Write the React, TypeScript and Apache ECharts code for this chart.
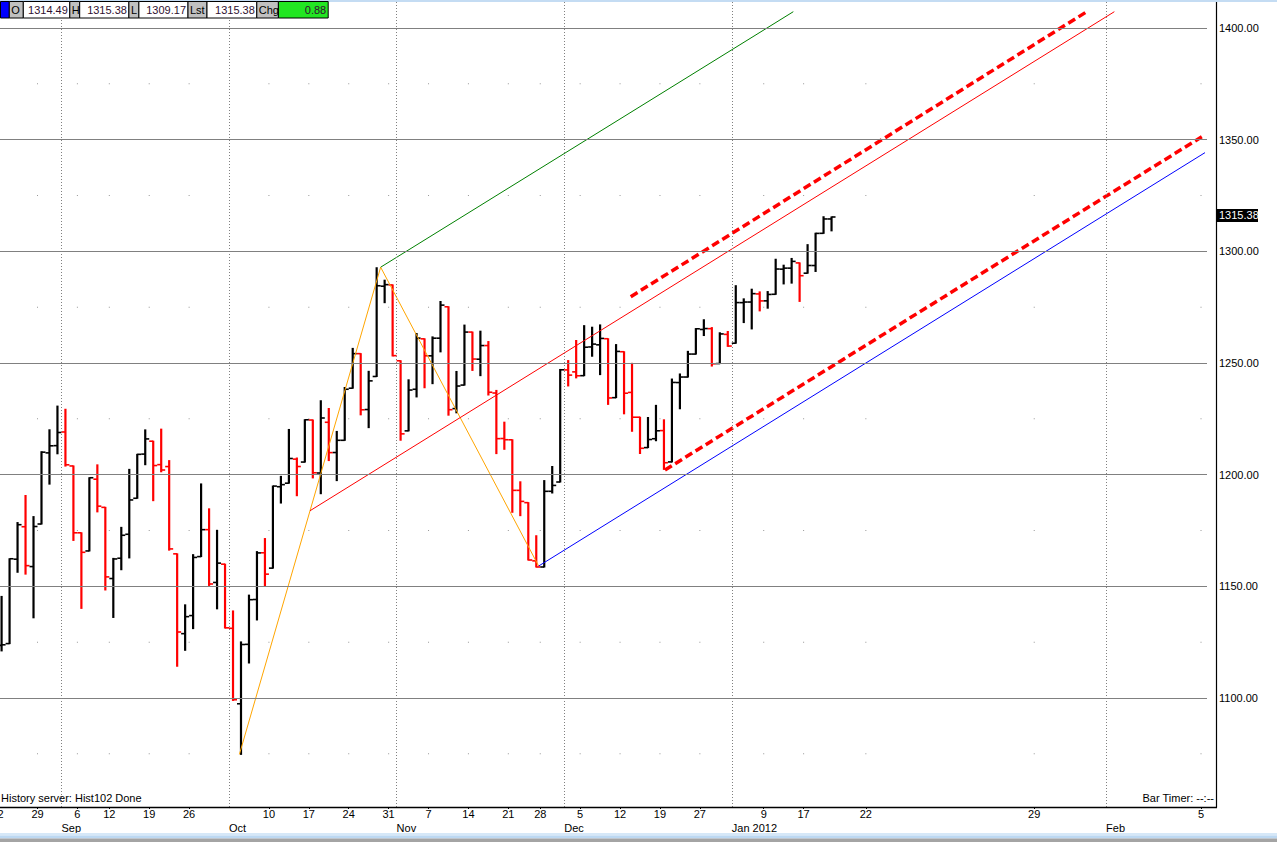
import React, { useEffect, useRef } from "react";
import * as echarts from "echarts";

// Trading days shown (index = slot on the x axis)
const dates = [
  "2011-08-22","2011-08-23","2011-08-24","2011-08-25","2011-08-26",
  "2011-08-29","2011-08-30","2011-08-31","2011-09-01","2011-09-02",
  "2011-09-06","2011-09-07","2011-09-08","2011-09-09",
  "2011-09-12","2011-09-13","2011-09-14","2011-09-15","2011-09-16",
  "2011-09-19","2011-09-20","2011-09-21","2011-09-22","2011-09-23",
  "2011-09-26","2011-09-27","2011-09-28","2011-09-29","2011-09-30",
  "2011-10-03","2011-10-04","2011-10-05","2011-10-06","2011-10-07",
  "2011-10-10","2011-10-11","2011-10-12","2011-10-13","2011-10-14",
  "2011-10-17","2011-10-18","2011-10-19","2011-10-20","2011-10-21",
  "2011-10-24","2011-10-25","2011-10-26","2011-10-27","2011-10-28",
  "2011-10-31","2011-11-01","2011-11-02","2011-11-03","2011-11-04",
  "2011-11-07","2011-11-08","2011-11-09","2011-11-10","2011-11-11",
  "2011-11-14","2011-11-15","2011-11-16","2011-11-17","2011-11-18",
  "2011-11-21","2011-11-22","2011-11-23","2011-11-25",
  "2011-11-28","2011-11-29","2011-11-30","2011-12-01","2011-12-02",
  "2011-12-05","2011-12-06","2011-12-07","2011-12-08","2011-12-09",
  "2011-12-12","2011-12-13","2011-12-14","2011-12-15","2011-12-16",
  "2011-12-19","2011-12-20","2011-12-21","2011-12-22","2011-12-23",
  "2011-12-27","2011-12-28","2011-12-29","2011-12-30",
  "2012-01-03","2012-01-04","2012-01-05","2012-01-06",
  "2012-01-09","2012-01-10","2012-01-11","2012-01-12","2012-01-13",
  "2012-01-17","2012-01-18","2012-01-19","2012-01-20",
];

const opens = [
  1123.55,1124.36,1162.16,1176.69,1158.85,
  1177.91,1209.76,1213.0,1219.12,1203.9,
  1173.97,1165.85,1197.98,1185.37,
  1153.5,1162.59,1173.32,1189.44,1209.21,
  1214.99,1204.5,1203.63,1164.55,1128.82,
  1136.91,1163.32,1175.39,1151.74,1159.93,
  1131.21,1097.42,1124.03,1144.11,1165.03,
  1158.15,1194.6,1196.19,1206.96,1205.65,
  1224.47,1200.75,1223.46,1209.92,1215.39,
  1238.72,1254.19,1229.17,1243.97,1284.39,
  1284.96,1251.0,1219.62,1238.25,1260.82,
  1253.21,1261.12,1275.18,1229.59,1240.12,
  1263.85,1251.7,1257.81,1236.56,1216.19,
  1215.62,1192.98,1187.48,1161.41,
  1158.67,1192.56,1196.72,1246.91,1246.03,
  1244.33,1257.19,1258.14,1260.87,1234.48,
  1255.05,1236.83,1225.73,1212.12,1216.09,
  1219.74,1205.72,1241.25,1243.72,1254.0,
  1265.02,1265.38,1249.75,1262.82,
  1258.86,1277.03,1277.3,1280.93,
  1277.83,1280.77,1292.02,1292.48,1294.82,
  1290.22,1293.65,1308.07,1314.49,
];

const highs = [
  1145.49,1162.35,1178.56,1190.68,1181.23,
  1210.28,1220.1,1230.71,1229.29,1203.9,
  1173.97,1198.62,1204.4,1185.37,
  1162.52,1176.41,1202.38,1209.11,1220.06,
  1214.99,1220.39,1206.3,1164.55,1141.72,
  1164.19,1195.86,1184.71,1175.09,1159.93,
  1138.99,1125.12,1146.07,1165.55,1171.4,
  1194.91,1199.24,1220.25,1207.46,1224.61,
  1224.47,1233.1,1229.64,1219.36,1239.03,
  1256.55,1254.19,1246.28,1292.66,1287.08,
  1284.96,1251.0,1242.48,1263.21,1260.82,
  1261.7,1277.55,1275.18,1246.22,1266.98,
  1263.85,1264.25,1259.61,1237.73,1223.51,
  1215.62,1196.81,1187.48,1172.66,
  1197.35,1203.67,1247.11,1251.09,1260.08,
  1266.73,1266.03,1267.06,1260.87,1258.25,
  1255.05,1249.86,1225.73,1225.6,1231.04,
  1224.57,1242.82,1245.09,1255.22,1265.42,
  1269.37,1265.85,1263.54,1264.12,
  1284.62,1278.73,1283.05,1281.84,
  1281.99,1296.46,1293.8,1296.82,1294.82,
  1303.0,1308.11,1315.49,1315.38,
];

const lows = [
  1121.09,1124.36,1156.3,1155.47,1135.91,
  1177.91,1195.77,1209.35,1203.85,1170.56,
  1140.13,1165.85,1183.34,1148.37,
  1136.07,1157.44,1162.73,1189.44,1204.46,
  1188.36,1201.29,1166.21,1114.22,1121.36,
  1131.07,1163.32,1150.4,1139.93,1131.34,
  1098.92,1074.77,1115.68,1134.95,1150.26,
  1158.15,1187.3,1196.19,1190.58,1205.65,
  1198.55,1191.48,1206.31,1197.34,1215.39,
  1238.72,1226.79,1221.06,1243.97,1277.01,
  1253.16,1215.42,1219.62,1234.81,1238.92,
  1240.75,1254.99,1226.64,1227.7,1240.12,
  1246.68,1244.34,1235.67,1209.43,1211.36,
  1183.16,1181.65,1161.79,1158.66,
  1158.67,1191.8,1196.72,1239.73,1243.35,
  1244.33,1253.03,1244.8,1231.47,1234.48,
  1227.25,1219.43,1209.47,1212.12,1215.2,
  1202.37,1205.72,1229.51,1243.72,1254.0,
  1262.3,1248.64,1249.75,1257.46,
  1258.86,1268.1,1265.26,1273.34,
  1274.55,1280.77,1285.41,1285.77,1277.58,
  1290.22,1290.99,1308.07,1309.17,
];

const closes = [
  1123.82,1162.35,1177.6,1159.27,1176.8,
  1210.08,1212.92,1218.89,1204.42,1173.97,
  1165.24,1198.62,1185.9,1154.23,
  1162.27,1172.87,1188.68,1209.11,1216.01,
  1204.09,1202.09,1166.76,1129.56,1136.43,
  1162.95,1175.38,1151.06,1160.4,1131.42,
  1099.23,1123.95,1144.03,1164.97,1155.46,
  1194.89,1195.54,1207.25,1203.66,1224.58,
  1200.86,1225.38,1209.88,1215.39,1238.25,
  1254.19,1229.05,1242.0,1284.59,1285.09,
  1253.3,1218.28,1237.9,1261.15,1253.23,
  1261.12,1275.92,1229.1,1239.69,1263.85,
  1251.78,1257.81,1236.91,1216.13,1215.65,
  1192.98,1188.04,1161.79,1158.67,
  1192.55,1195.19,1246.96,1244.58,1244.28,
  1257.08,1258.47,1261.01,1234.35,1255.19,
  1236.47,1225.73,1211.82,1215.75,1219.66,
  1205.35,1241.3,1243.72,1254.0,1265.33,
  1265.43,1249.64,1263.02,1257.6,
  1277.06,1277.3,1281.06,1277.81,
  1280.7,1292.08,1292.48,1295.5,1289.09,
  1293.67,1308.04,1314.5,1315.38,
];

// week tick labels: [slot, text]  (future slots follow the software's calendar spacing)
const weekTicks: [number, string][] = [
  [0, "22"], [5, "29"], [10, "6"], [14, "12"], [19, "19"], [24, "26"],
  [34, "10"], [39, "17"], [44, "24"], [49, "31"], [54, "7"], [59, "14"],
  [64, "21"], [68, "28"], [73, "5"], [78, "12"], [83, "19"], [88, "27"],
  [96, "9"], [101, "17"], [108.8, "22"], [129.9, "29"], [150.8, "5"],
];

// month starts: [slot, text]
const monthTicks: [number, string][] = [
  [8, "Sep"], [29, "Oct"], [50, "Nov"], [71, "Dec"], [92, "Jan 2012"], [138.9, "Feb"],
];

const priceLevels = [1100, 1150, 1200, 1250, 1300, 1350, 1400];
const midLevels = [1075, 1125, 1175, 1225, 1275, 1325, 1375];

// drawn studies: [slot, price] points
const pitchforkHandles: [number, number][] = [[30.3, 1074.77], [48.0, 1292.9], [67.8, 1159.1]];
const medianLine: [number, number][] = [[39.15, 1183.85], [139.94, 1407.3]];
const upperTine: [number, number][] = [[48.0, 1292.9], [99.71, 1407.3]];
const lowerTine: [number, number][] = [[67.8, 1159.1], [151.3, 1344.2]];
const upperDashed: [number, number][] = [[79.34, 1279.7], [136.35, 1407.0]];
const lowerDashed: [number, number][] = [[83.63, 1202.1], [150.9, 1351.3]];

const FONT = "Liberation Sans, Arial, sans-serif";

export default function App() {
  const ref = useRef<HTMLDivElement>(null);

  useEffect(() => {
    document.body.style.margin = "0";
    const chart = echarts.init(ref.current!, null, { renderer: "svg" });

    const bars = dates.map((_, i) => [i + 0.5, opens[i], highs[i], lows[i], closes[i]]);
    const weekMap = new Map(weekTicks.map(([s, t]) => [s.toFixed(2), t]));
    const monthMap = new Map(monthTicks.map(([s, t]) => [s.toFixed(2), t]));
    const dots: number[][] = [];
    weekTicks.forEach(([s]) => midLevels.forEach((lv) => dots.push([s, lv])));

    const lineSeries = (data: [number, number][], color: string, width: number, type: any) => ({
      type: "line",
      data,
      symbol: "none",
      showSymbol: false,
      silent: true,
      clip: true,
      z: 4,
      lineStyle: { color, width, type },
    });

    chart.setOption({
      animation: false,
      backgroundColor: "#ffffff",
      grid: { left: -2.4, right: 70, top: 0, bottom: 35, containLabel: false, outerBoundsMode: "none" },
      xAxis: [
        {
          type: "value",
          min: 0,
          max: 151.55,
          position: "bottom",
          axisLine: { show: false },
          splitLine: { show: false },
          axisTick: {
            show: true,
            customValues: weekTicks.map((w) => w[0]),
            length: 2,
            lineStyle: { color: "#000000" },
          },
          axisLabel: {
            customValues: weekTicks.map((w) => w[0]),
            formatter: (v: number) => weekMap.get(Number(v).toFixed(2)) ?? "",
            fontSize: 11,
            fontFamily: FONT,
            color: "#000000",
            margin: 1,
          },
        },
        {
          type: "value",
          min: 0,
          max: 151.55,
          position: "bottom",
          offset: 13,
          axisLine: { show: false },
          splitLine: { show: false },
          axisTick: { show: false },
          axisLabel: {
            customValues: monthTicks.map((m) => m[0]),
            formatter: (v: number) => monthMap.get(Number(v).toFixed(2)) ?? "",
            align: "left",
            fontSize: 11,
            fontFamily: FONT,
            color: "#000000",
            margin: 2,
          },
        },
      ],
      yAxis: {
        type: "value",
        min: 1051.2,
        max: 1412.54,
        position: "right",
        axisLine: { show: false },
        axisTick: { show: false },
        splitLine: { show: false },
        axisLabel: {
          customValues: priceLevels,
          formatter: (v: number) => Number(v).toFixed(2),
          fontSize: 11,
          fontFamily: FONT,
          color: "#000000",
          margin: 12,
        },
      },
      series: [
        {
          type: "scatter",
          data: dots,
          symbol: "rect",
          symbolSize: [1, 1],
          silent: true,
          z: 1,
          itemStyle: { color: "#808080" },
          markLine: {
            silent: true,
            symbol: ["none", "none"],
            label: { show: false },
            animation: false,
            lineStyle: { color: "#808080", width: 1, type: "solid" },
            data: [
              ...priceLevels.map((v) => ({ yAxis: v })),
              ...monthTicks.map(([s]) => ({
                xAxis: s,
                lineStyle: { color: "#808080", width: 1, type: [1, 2] },
              })),
            ],
          },
        },
        {
          type: "custom",
          data: bars,
          clip: true,
          silent: true,
          z: 3,
          renderItem: (params: any, api: any) => {
            const x = api.value(0);
            const o = api.value(1);
            const h = api.value(2);
            const l = api.value(3);
            const c = api.value(4);
            const ph = api.coord([x, h]);
            const pl = api.coord([x, l]);
            const po = api.coord([x, o]);
            const pc = api.coord([x, c]);
            const half = api.size([1, 0])[0] * 0.5;
            const col = c >= o ? "#000000" : "#ff0000";
            return {
              type: "group",
              children: [
                { type: "line", shape: { x1: ph[0], y1: ph[1] - 0.5, x2: pl[0], y2: pl[1] + 0.5 }, style: { stroke: col, lineWidth: 2.2 } },
                { type: "line", shape: { x1: po[0] - half, y1: po[1], x2: po[0], y2: po[1] }, style: { stroke: col, lineWidth: 1.6 } },
                { type: "line", shape: { x1: pc[0], y1: pc[1], x2: pc[0] + half, y2: pc[1] }, style: { stroke: col, lineWidth: 1.6 } },
              ],
            };
          },
        },
        lineSeries(pitchforkHandles, "#ffa500", 1, "solid"),
        lineSeries(medianLine, "#ff0000", 1, "solid"),
        lineSeries(upperTine, "#008000", 1, "solid"),
        lineSeries(lowerTine, "#0000ff", 1, "solid"),
        lineSeries(upperDashed, "#ff0000", 3.5, [8, 4]),
        lineSeries(lowerDashed, "#ff0000", 3.5, [8, 4]),
      ],
    });

    const n = closes.length - 1;
    const yLast = chart.convertToPixel({ yAxisIndex: 0 }, closes[n]) as number;
    const header: { label: string; value: string; lx: number; lw: number; vw: number; fill: string }[] = [
      { label: "O", value: opens[n].toFixed(2), lx: 9.3, lw: 14, vw: 46.5, fill: "#ffffff" },
      { label: "H", value: highs[n].toFixed(2), lx: 69.8, lw: 9.9, vw: 49.2, fill: "#ffffff" },
      { label: "L", value: lows[n].toFixed(2), lx: 128.9, lw: 10, vw: 49.1, fill: "#ffffff" },
      { label: "Lst", value: closes[n].toFixed(2), lx: 188, lw: 19, vw: 49.8, fill: "#ffffff" },
      { label: "Chg", value: (closes[n] - closes[n - 1]).toFixed(2), lx: 256.8, lw: 21.6, vw: 49.8, fill: "#22e622" },
    ];
    const txt = (text: string, x: number, y: number, align: string, fill: string, extra: any = {}) => ({
      type: "text",
      silent: true,
      z: 20,
      style: {
        text, x, y, fill,
        font: `11px ${FONT}`,
        align, verticalAlign: "middle",
        textAlign: align, textVerticalAlign: "middle",
        ...extra,
      },
    });
    const elements: any[] = [
      { type: "rect", silent: true, z: 10, shape: { x: 0, y: 0, width: 1277, height: 2 }, style: { fill: "#c4dcf3" } },
      { type: "rect", silent: true, z: 11, shape: { x: 0.5, y: 1.5, width: 8.8, height: 16.5 }, style: { fill: "#0000ff", stroke: "#000", lineWidth: 1 } },
    ];
    header.forEach((hc) => {
      const vx = hc.lx + hc.lw;
      elements.push({ type: "rect", silent: true, z: 11, shape: { x: hc.lx, y: 1.5, width: hc.lw, height: 16.5 }, style: { fill: "#c0c0c0", stroke: "#000", lineWidth: 1 } });
      elements.push({ type: "rect", silent: true, z: 11, shape: { x: vx, y: 1.5, width: hc.vw, height: 16.5 }, style: { fill: hc.fill, stroke: "#000", lineWidth: 1 } });
      elements.push(txt(hc.label, hc.lx + 2, 10, "left", "#000000"));
      elements.push(txt(hc.value, vx + hc.vw - 2, 10, "right", "#301030"));
    });
    elements.push(
      { type: "line", silent: true, z: 10, shape: { x1: 0, y1: 807.5, x2: 1217, y2: 807.5 }, style: { stroke: "#000", lineWidth: 1.5 } },
      { type: "line", silent: true, z: 10, shape: { x1: 1216.5, y1: 2, x2: 1216.5, y2: 807.5 }, style: { stroke: "#000", lineWidth: 1.2 } },
      txt("History server: Hist102 Done", 1, 798, "left", "#000000"),
      txt("Bar Timer: --:--", 1214, 798, "right", "#000000"),
      { type: "rect", silent: true, z: 10, shape: { x: 1217, y: yLast - 8, width: 41, height: 13 }, style: { fill: "#000000" } },
      txt(closes[n].toFixed(2), 1219, yLast - 1.5, "left", "#ffffff"),
      { type: "rect", silent: true, z: 10, shape: { x: 0, y: 833, width: 1277, height: 2.5 }, style: { fill: "#d6e8f8" } },
      { type: "rect", silent: true, z: 10, shape: { x: 0, y: 835.5, width: 1277, height: 3 }, style: { fill: "#bcd8f2" } },
      { type: "rect", silent: true, z: 10, shape: { x: 0, y: 838.5, width: 1277, height: 3.5 }, style: { fill: "#a4a4a4" } }
    );
    chart.setOption({ graphic: elements });

    return () => chart.dispose();
  }, []);

  return (
    <div
      ref={ref}
      style={{ position: "fixed", left: 0, top: 0, width: 1277, height: 842, background: "#ffffff" }}
    />
  );
}
